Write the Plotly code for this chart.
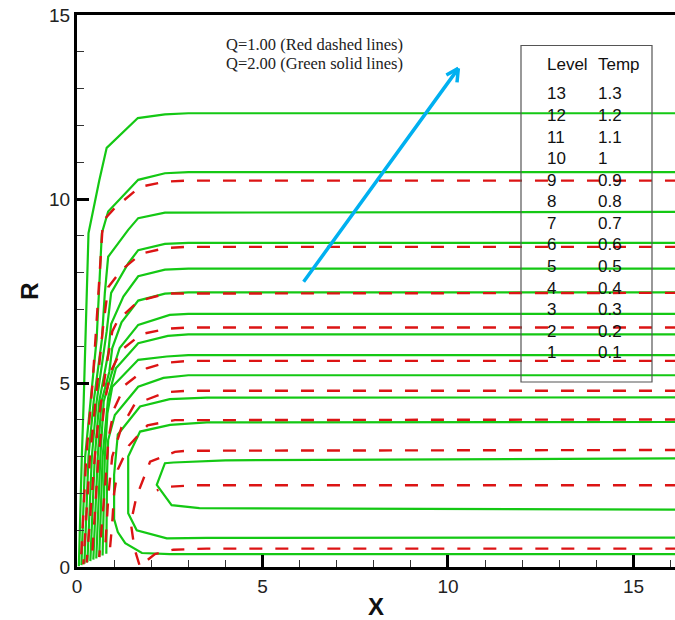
import plotly.graph_objects as go

# ---- contour table (level number / temperature) ----
levels = [13, 12, 11, 10, 9, 8, 7, 6, 5, 4, 3, 2, 1]
temps = ["1.3", "1.2", "1.1", "1", "0.9", "0.8", "0.7", "0.6", "0.5", "0.4", "0.3", "0.2", "0.1"]

# ---- Q = 2.00 isotherms (green, solid): lines that run into the heated wall ----
green_wall_x = [
    [16.2, 3.0, 2.37, 1.64, 0.80, 0.60, 0.31, 0.24, 0.18, 0.13, 0.05],
    [16.2, 3.0, 2.37, 1.65, 0.84, 0.67, 0.53, 0.36, 0.22, 0.12],
    [16.2, 3.0, 2.37, 1.65, 1.38, 0.84, 0.75, 0.67, 0.45, 0.31, 0.20],
    [16.2, 3.0, 2.37, 1.65, 1.38, 0.92, 0.80, 0.53, 0.40, 0.28],
    [16.2, 3.0, 2.37, 1.65, 1.25, 0.92, 0.84, 0.60, 0.48, 0.36],
    [16.2, 3.0, 2.37, 1.65, 1.20, 0.95, 0.87, 0.66, 0.56, 0.44],
    [16.2, 3.0, 2.50, 1.65, 1.15, 0.93, 0.72, 0.63, 0.52],
    [16.2, 3.0, 2.45, 1.65, 1.05, 0.84, 0.69, 0.60],
    [16.2, 3.0, 2.42, 1.65, 0.95, 0.82, 0.75, 0.69],
    [16.2, 3.0, 2.33, 1.65, 1.02, 0.84, 0.81, 0.79],
]
green_wall_r = [
    [12.33, 12.33, 12.30, 12.20, 11.39, 10.50, 9.07, 6.20, 4.50, 3.00, 0.02],
    [10.73, 10.73, 10.70, 10.52, 9.66, 9.07, 6.20, 4.50, 3.00, 0.05],
    [9.65, 9.65, 9.63, 9.48, 9.16, 8.43, 7.44, 6.17, 4.50, 3.00, 0.09],
    [8.81, 8.81, 8.78, 8.61, 8.25, 7.45, 6.40, 4.50, 3.00, 0.13],
    [8.11, 8.11, 8.08, 7.90, 7.35, 6.60, 5.80, 4.50, 3.00, 0.16],
    [7.46, 7.46, 7.43, 7.24, 6.65, 5.95, 5.30, 4.50, 3.00, 0.20],
    [6.88, 6.88, 6.85, 6.58, 5.95, 5.25, 4.50, 3.00, 0.23],
    [6.32, 6.32, 6.28, 6.08, 5.40, 4.60, 3.00, 0.27],
    [5.76, 5.76, 5.72, 5.63, 4.90, 4.18, 3.00, 0.31],
    [5.21, 5.21, 5.14, 4.90, 4.13, 3.45, 2.55, 0.36],
]

# ---- Q = 2.00 isotherms (green, solid): closed loops round the cold core ----
green_loop_x = [
    [16.2, 4.0, 2.60, 2.37, 2.15, 2.55, 3.30, 16.2],
    [16.2, 3.5, 2.51, 1.70, 1.38, 1.38, 1.61, 2.42, 3.50, 16.2],
    [16.2, 3.5, 2.50, 1.70, 1.10, 1.00, 1.00, 1.10, 1.30, 1.75, 2.50, 16.2],
]
green_loop_r = [
    [2.95, 2.90, 2.84, 2.82, 2.23, 1.68, 1.60, 1.56],
    [3.94, 3.93, 3.86, 3.68, 3.00, 1.46, 1.00, 0.78, 0.79, 0.80],
    [4.61, 4.60, 4.56, 4.36, 3.60, 2.50, 1.30, 0.95, 0.65, 0.38, 0.35, 0.35],
]

# ---- Q = 1.00 isotherms (red, dashed) ----
red_wall_x = [
    [16.2, 3.0, 2.37, 1.70, 1.02, 0.70, 0.55, 0.42, 0.25, 0.10],
    [16.2, 3.0, 2.40, 1.74, 1.20, 0.84, 0.70, 0.50, 0.35, 0.17],
    [16.2, 3.0, 2.40, 1.65, 1.10, 0.95, 0.80, 0.58, 0.48, 0.26],
    [16.2, 3.0, 2.40, 1.74, 1.20, 0.90, 0.75, 0.58, 0.40],
    [16.2, 3.0, 2.40, 1.88, 1.30, 1.00, 0.85, 0.78, 0.60],
    [16.2, 3.0, 2.40, 2.15, 1.55, 1.20, 0.95, 0.85, 0.75],
    [16.2, 3.0, 2.64, 1.90, 1.40, 1.10, 1.00, 0.95, 0.88],
]
red_wall_r = [
    [10.50, 10.50, 10.47, 10.33, 9.76, 9.40, 7.00, 5.00, 3.00, 0.05],
    [8.70, 8.70, 8.67, 8.52, 8.07, 7.60, 6.50, 4.50, 3.00, 0.07],
    [7.45, 7.45, 7.43, 7.22, 6.70, 6.40, 5.50, 4.00, 3.00, 0.12],
    [6.51, 6.51, 6.47, 6.33, 5.90, 5.30, 4.50, 3.00, 0.18],
    [5.60, 5.60, 5.55, 5.40, 4.95, 4.30, 3.50, 2.50, 0.27],
    [4.79, 4.79, 4.75, 4.65, 4.42, 3.80, 3.00, 2.00, 0.34],
    [4.01, 4.01, 3.99, 3.85, 3.30, 2.65, 2.00, 1.20, 0.40],
]
red_core_x = [
    [16.2, 3.0, 2.64, 1.97, 1.60, 1.45, 1.55, 1.70, 1.85, 2.10, 2.60, 3.50, 16.2],
    [16.2, 3.2, 2.45, 2.15],
]
red_core_r = [
    [3.18, 3.16, 3.13, 2.86, 1.90, 1.20, 0.50, 0.00, 0.15, 0.35, 0.47, 0.50, 0.50],
    [2.22, 2.22, 2.18, 2.08],
]

GREEN = "#14C814"
RED = "#DC1414"

fig = go.Figure()

for xs, rs in zip(green_wall_x + green_loop_x, green_wall_r + green_loop_r):
    fig.add_trace(go.Scatter(x=xs, y=rs, mode="lines", showlegend=False,
                             line=dict(color=GREEN, width=2.2), hoverinfo="skip"))

for xs, rs in zip(red_wall_x + red_core_x, red_wall_r + red_core_r):
    fig.add_trace(go.Scatter(x=xs, y=rs, mode="lines", showlegend=False,
                             line=dict(color=RED, width=2.4, dash="13px,13px"),
                             hoverinfo="skip"))

# direction arrow
ax0, ay0, ax1, ay1 = 6.08, 7.71, 10.28, 13.55
fig.add_annotation(x=ax1, y=ay1, ax=ax0, ay=ay0, xref="x", yref="y", axref="x", ayref="y",
                   showarrow=True, arrowhead=0, arrowwidth=3.5, arrowcolor="#00B0F0", text="")

# chevron head of the arrow (pixel-space offsets)
fig.add_annotation(x=ax1, y=ay1, xref="x", yref="y", ax=-13.5, ay=7.5,
                   showarrow=True, arrowhead=0, arrowwidth=3.5, arrowcolor="#00B0F0", text="")
fig.add_annotation(x=ax1, y=ay1, xref="x", yref="y", ax=-1.5, ay=15.5,
                   showarrow=True, arrowhead=0, arrowwidth=3.5, arrowcolor="#00B0F0", text="")

# case labels
fig.add_annotation(x=0.245, y=0.946, xref="paper", yref="paper", xanchor="left", yanchor="middle",
                   text="Q=1.00 (Red dashed lines)", showarrow=False,
                   font=dict(family="Liberation Serif", size=16.5, color="#222"))
fig.add_annotation(x=0.245, y=0.913, xref="paper", yref="paper", xanchor="left", yanchor="middle",
                   text="Q=2.00 (Green solid lines)", showarrow=False,
                   font=dict(family="Liberation Serif", size=16.5, color="#222"))

# contour level table
PLOT_L, PLOT_T, PLOT_B, PLOT_W = 77, 15, 567, 598
def px(xp):
    return (xp - PLOT_L) / PLOT_W
def py(yp):
    return (PLOT_B - yp) / (PLOT_B - PLOT_T)

fig.add_shape(type="rect", xref="paper", yref="paper",
              x0=px(521), x1=px(652), y0=py(382), y1=py(45.5),
              line=dict(color="#555", width=1.2), fillcolor="rgba(0,0,0,0)", layer="above")
tfont = dict(family="Liberation Sans", size=17, color="#111")
fig.add_annotation(x=px(545), y=py(65), xref="paper", yref="paper", xanchor="left", yanchor="middle",
                   text="Level", showarrow=False, font=tfont)
fig.add_annotation(x=px(596), y=py(65), xref="paper", yref="paper", xanchor="left", yanchor="middle",
                   text="Temp", showarrow=False, font=tfont)
for i, (lv, tp) in enumerate(zip(levels, temps)):
    yy = py(94 + i * 21.56)
    fig.add_annotation(x=px(545), y=yy, xref="paper", yref="paper", xanchor="left", yanchor="middle",
                       text=str(lv), showarrow=False, font=tfont)
    fig.add_annotation(x=px(596), y=yy, xref="paper", yref="paper", xanchor="left", yanchor="middle",
                       text=tp, showarrow=False, font=tfont)

tick_font = dict(family="Liberation Sans", size=19, color="#222")
fig.update_xaxes(range=[0, 16.12], showline=True, linewidth=3, linecolor="black", mirror=True,
                 ticks="inside", ticklen=12, tickwidth=3, tickcolor="black", dtick=5, tick0=0,
                 minor=dict(dtick=1, ticks="inside", ticklen=7, tickwidth=1, tickcolor="#333"),
                 showgrid=False, zeroline=False, tickfont=tick_font,
                 title=dict(text="<b>X</b>", font=dict(family="Liberation Sans", size=24, color="#111"),
                            standoff=4))
fig.update_yaxes(range=[0, 15], showline=True, linewidth=3, linecolor="black",
                 ticks="inside", ticklen=12, tickwidth=3, tickcolor="black", dtick=5, tick0=0,
                 minor=dict(dtick=1, ticks="inside", ticklen=7, tickwidth=1, tickcolor="#333"),
                 showgrid=False, zeroline=False, tickfont=tick_font,
                 title=dict(text="<b>R</b>", font=dict(family="Liberation Sans", size=24, color="#111"),
                            standoff=4))

fig.update_layout(width=675, height=620, margin=dict(l=77, r=0, t=15, b=53),
                  plot_bgcolor="white", paper_bgcolor="white")

fig.write_html("out.html")
